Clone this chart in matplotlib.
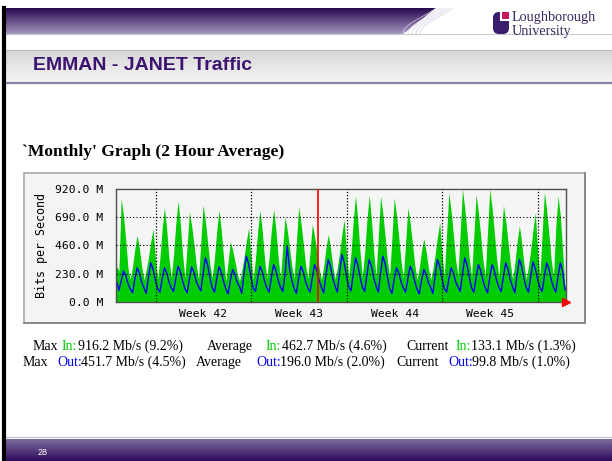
# EMMAN - JANET traffic slide: MRTG 'Monthly' graph recreated with matplotlib.

import numpy as np
import matplotlib.pyplot as plt
from matplotlib.patches import Rectangle, Polygon, FancyBboxPatch
from matplotlib.colors import LinearSegmentedColormap

W, H = 612, 461

# Traffic, Mb/s, 4-hour samples (6 per day), left to right
in_week41 = [
    290, 250, 838, 700, 500, 270,
    185, 288, 432, 540, 432, 288,
    180, 259, 364, 489, 594, 364,
]
in_week42 = [
    185, 353, 589, 767, 589, 353,
    195, 379, 631, 820, 631, 379,
    195, 462, 733, 614, 462, 299,
    185, 484, 787, 653, 484, 301,
    195, 357, 579, 746, 579, 357,
    170, 328, 490, 419, 328, 230,
    170, 252, 362, 493, 602, 362,
]
in_week43 = [
    185, 349, 574, 743, 574, 349,
    195, 358, 583, 751, 583, 358,
    195, 440, 689, 579, 440, 290,
    195, 480, 770, 642, 480, 306,
    190, 408, 630, 532, 408, 274,
    180, 287, 436, 548, 436, 287,
    185, 278, 401, 548, 670, 401,
]
in_week44 = [
    205, 398, 662, 860, 662, 398,
    205, 400, 666, 865, 666, 400,
    205, 530, 860, 715, 530, 332,
    205, 523, 846, 704, 523, 329,
    195, 478, 765, 639, 478, 305,
    180, 276, 412, 513, 412, 276,
    180, 269, 386, 526, 643, 386,
]
in_week45 = [
    205, 544, 887, 736, 544, 337,
    215, 562, 914, 759, 562, 351,
    205, 537, 873, 725, 537, 335,
    215, 563, 916, 761, 563, 351,
    205, 492, 784, 656, 492, 317,
    185, 311, 485, 616, 485, 311,
    185, 289, 425, 588, 724, 425,
]
in_week46 = [
    205, 546, 892, 740, 546, 338,
    210, 600, 860, 700, 420, 133,
]

out_week41 = [
    165, 95, 170, 250, 215, 150,
    105, 75, 184, 277, 236, 160,
    115, 70, 206, 318, 268, 180,
]
out_week42 = [
    110, 80, 184, 277, 236, 163,
    115, 85, 191, 290, 246, 169,
    110, 75, 188, 284, 241, 166,
    125, 90, 228, 358, 300, 200,
    115, 80, 188, 284, 241, 166,
    105, 65, 176, 263, 224, 157,
    125, 70, 236, 371, 311, 205,
]
out_week43 = [
    115, 85, 191, 290, 246, 169,
    115, 80, 198, 303, 256, 175,
    120, 85, 220, 450, 270, 175,
    110, 70, 191, 290, 246, 169,
    115, 80, 198, 303, 256, 175,
    120, 75, 221, 344, 289, 193,
    130, 80, 243, 385, 322, 212,
]
out_week44 = [
    125, 90, 228, 358, 300, 200,
    120, 85, 221, 344, 289, 193,
    130, 80, 236, 371, 311, 205,
    110, 70, 184, 277, 236, 163,
    115, 80, 191, 290, 246, 169,
    105, 65, 176, 263, 224, 157,
    120, 70, 221, 344, 289, 193,
]
out_week45 = [
    110, 80, 184, 277, 236, 163,
    125, 85, 228, 358, 300, 200,
    115, 80, 198, 303, 256, 175,
    115, 75, 198, 303, 256, 175,
    120, 85, 206, 317, 268, 181,
    125, 75, 221, 344, 289, 193,
    120, 80, 209, 323, 272, 184,
]
out_week46 = [
    120, 85, 206, 317, 268, 181,
    120, 80, 206, 317, 250, 100,
]

samples_per_day = 6
week_starts = [2.95, 9.95, 16.95, 23.95, 30.95]   # day index of each Monday
week_labels = ["Week 42", "Week 43", "Week 44", "Week 45"]
month_start = 14.84
y_ticks = [0, 230, 460, 690, 920]
y_tick_labels = ["0.0 M", "230.0 M", "460.0 M", "690.0 M", "920.0 M"]

stats_in = [("Max", "916.2 Mb/s (9.2%)"), ("Average", "462.7 Mb/s (4.6%)"),
            ("Current", "133.1 Mb/s (1.3%)")]
stats_out = [("Max", "451.7 Mb/s (4.5%)"), ("Average", "196.0 Mb/s (2.0%)"),
             ("Current", "99.8 Mb/s (1.0%)")]

GREEN = "#00cc00"
BLUE = "#0000ff"
PURPLE = "#2e0b5c"
SERIF = "Liberation Serif"
SANS = "Liberation Sans"
MONO = "DejaVu Sans Mono"


def gradient(ax, x0, x1, y0, y1, c_top, c_bottom, z=1, clip=None):
    cmap = LinearSegmentedColormap.from_list("g", [c_top, c_bottom])
    grad = np.linspace(0, 1, 64).reshape(-1, 1)
    im = ax.imshow(grad, cmap=cmap, extent=(x0, x1, y1, y0), aspect="auto",
                   zorder=z, interpolation="bilinear")
    if clip is not None:
        im.set_clip_path(clip)
    return im


def draw_slide(bg):
    # top banner with swoosh edge
    banner = Polygon([(5, 8), (436, 8), (403, 34), (5, 34)], closed=True,
                     facecolor="none", edgecolor="none")
    bg.add_patch(banner)
    gradient(bg, 5, 440, 8, 34, "#2a0850", "#a397c0", clip=banner)
    s = np.linspace(0, 1, 30)
    for off in [0, 5, 9, 13, 17]:
        xs = 403 + off + 33 * s - 10 * np.sin(np.pi * s) * (1 - s)
        ys = 34 - 26 * s
        bg.plot(xs, ys, color="#d8d0e6", lw=0.7, alpha=0.8, zorder=2)
    bg.plot([5, W], [34.5, 34.5], color="#cccccc", lw=0.8, zorder=2)

    # logo
    bg.add_patch(FancyBboxPatch((493, 12), 16, 22, boxstyle="round,pad=0,rounding_size=6",
                                facecolor="#3b1d6e", edgecolor="none", zorder=3))
    bg.add_patch(Rectangle((500, 11), 10, 10, facecolor="white", edgecolor="none", zorder=4))
    bg.add_patch(Rectangle((501.5, 12), 7.5, 7.5, facecolor="#c8175d", edgecolor="none", zorder=5))
    bg.text(512, 17.5, "Loughborough", family=SERIF, fontsize=10.2, color="#3a2860",
            va="center", ha="left", zorder=5)
    bg.text(512, 31.5, "University", family=SERIF, fontsize=10.2, color="#3a2860",
            va="center", ha="left", zorder=5)

    # title band
    gradient(bg, 5, W, 50, 83, "#d6d6d6", "#f7f7f7")
    bg.plot([5, W], [50, 50], color="#b8b8b8", lw=0.8, zorder=2)
    bg.plot([5, W], [83.5, 83.5], color="#8c7fa6", lw=1.6, zorder=2)
    bg.text(33, 66, "EMMAN - JANET Traffic", family=SANS, fontweight="bold",
            fontsize=14, color="#3c1470", va="center", ha="left", zorder=3)

    # footer
    bg.plot([5, W], [437, 437], color="#c0b8d0", lw=0.8, zorder=2)
    gradient(bg, 5, W, 439, H, "#7c6c9c", PURPLE, z=1)
    bg.text(43, 452, "28", family=SANS, fontsize=6.5, color="white",
            va="center", ha="center", zorder=3)

    # left border
    bg.plot([3.5, 3.5], [8, H], color="black", lw=3, zorder=3)

    # heading
    bg.text(22, 152, "`Monthly' Graph (2 Hour Average)", family=SERIF, fontweight="bold",
            fontsize=12.6, color="black", va="center", ha="left")

    # MRTG frame
    bg.add_patch(Rectangle((24, 173), 561, 150, facecolor="#f4f4f4",
                           edgecolor="#a8a8a8", lw=1.2, zorder=1))
    bg.plot([585, 585, 24], [173, 323, 323], color="#808080", lw=1.2, zorder=2)

    bg.text(41, 245, "Bits per Second", family=MONO, fontsize=8.4, rotation=90,
            va="center", ha="center", color="black", zorder=3)

    # stats lines
    x_in = [(33, 62, 78), (207, 266, 282), (406, 456, 471)]
    for (label, value), (xl, xc, xv) in zip(stats_in, x_in):
        bg.text(xl, 346, label, family=SERIF, fontsize=10, va="center")
        bg.text(xc, 346, "In:", family=SERIF, fontsize=10, va="center", color=GREEN)
        bg.text(xv, 346, value, family=SERIF, fontsize=10, va="center")
    x_out = [(23, 57, 81), (196, 256, 280), (396, 448, 472)]
    for (label, value), (xl, xc, xv) in zip(stats_out, x_out):
        bg.text(xl, 362, label, family=SERIF, fontsize=10, va="center")
        bg.text(xc, 362, "Out:", family=SERIF, fontsize=10, va="center", color=BLUE)
        bg.text(xv, 362, value, family=SERIF, fontsize=10, va="center")

    bg.set_xlim(0, W)
    bg.set_ylim(H, 0)
    bg.axis("off")


def draw_graph(ax):
    traffic_in = in_week41 + in_week42 + in_week43 + in_week44 + in_week45 + in_week46
    traffic_out = out_week41 + out_week42 + out_week43 + out_week44 + out_week45 + out_week46
    n = len(traffic_in)
    # each sample drawn at the middle of its 4-hour slot
    t = (np.arange(n) + 0.5) / samples_per_day
    t = np.concatenate([[0], t, [n / samples_per_day]])
    y_in = np.array(traffic_in[:1] + traffic_in + traffic_in[-1:], dtype=float)
    y_out = np.array(traffic_out[:1] + traffic_out + traffic_out[-1:], dtype=float)

    ax.set_facecolor("#f5f5f5")
    ax.fill_between(t, 0, y_in, color=GREEN, lw=0, zorder=1)
    ax.plot(t, y_out, color=BLUE, lw=1.0, zorder=2)

    for v in y_ticks[1:-1]:
        ax.axhline(v, color="black", lw=0.8, ls=(0, (1, 2)), zorder=3)
    for d in week_starts:
        ax.axvline(d, color="black", lw=0.9, ls=(0, (1, 1.5)), zorder=3)
    ax.axvline(month_start, color="red", lw=1.2, zorder=4)

    ax.set_xlim(0, n / samples_per_day)
    ax.set_ylim(0, 920)

    ax.set_yticks(y_ticks)
    ax.set_yticklabels(y_tick_labels, family=MONO, fontsize=8.2)
    ax.set_xticks([d + 3.5 for d in week_starts[:4]])
    ax.set_xticklabels(week_labels, family=MONO, fontsize=8.2)
    ax.tick_params(axis="y", length=0, pad=9)
    ax.tick_params(axis="x", length=0, pad=5)

    for sp in ax.spines.values():
        sp.set_color("#505050")
        sp.set_linewidth(1.0)

    # red arrow at the end of the time axis
    ax.plot([n / samples_per_day], [0], marker=">", color="red", markersize=6,
            clip_on=False, zorder=5)


def main():
    fig = plt.figure(figsize=(W / 100, H / 100), dpi=100)
    fig.patch.set_facecolor("white")

    bg = fig.add_axes([0, 0, 1, 1], zorder=0)
    draw_slide(bg)

    ax = fig.add_axes([115.5 / W, 1 - 302 / H, (566 - 115.5) / W, (302 - 188.5) / H],
                      zorder=2)
    draw_graph(ax)

    fig.savefig("out.png", dpi=100)


if __name__ == "__main__":
    main()
